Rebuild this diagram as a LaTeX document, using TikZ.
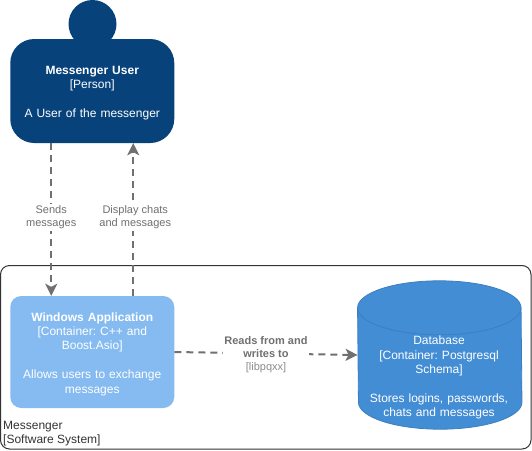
\documentclass[tikz,border=0pt]{standalone}
\usepackage{fontspec}
\setmainfont{Liberation Sans}
\usepackage{tikz}
\usetikzlibrary{positioning}
\usetikzlibrary{arrows.meta}
\definecolor{PersonBlue}{HTML}{08427B}
\definecolor{AppBlue}{HTML}{85BBF0}
\definecolor{DbBlue}{HTML}{438DD5}
\definecolor{DbEdge}{HTML}{3C7FC0}
\definecolor{LinkGray}{HTML}{707070}
\tikzset{
  boxtext/.style={text=white,align=center,text width=156pt,inner sep=0pt,font=\fontsize{12}{14.4}\selectfont},
  linktext/.style={text=LinkGray,fill=white,align=center,inner sep=1.5pt,font=\fontsize{11}{13.2}\selectfont},
  link/.style={draw=LinkGray,line width=2pt,dash pattern=on 7pt off 5pt,-{Stealth[length=12pt,width=12pt,inset=3pt]}}
}
\frenchspacing
\begin{document}
\frenchspacing
\begin{tikzpicture}[x=1pt,y=-1pt]
\useasboundingbox (0,0) rectangle (532,450);
\fill[white] (0,0) rectangle (532,450);
\draw[color=black!80,line width=1pt,rounded corners=9pt] (0.5,265.5) rectangle (531,449);
\node[anchor=north west,inner sep=0pt,align=left,text=black!80,font=\fontsize{12}{14.4}\selectfont] (system) at (3,421)
{Messenger\\{[Software System]}};
% person
\node[circle,fill=PersonBlue,minimum size=48pt,inner sep=0pt] (head) at (92.5,24) {};
\node[fill=PersonBlue,rounded corners=24pt,minimum width=164pt,minimum height=104pt,inner sep=0pt] (user) at (92.25,91) {};
\node[boxtext] (usertext) at (92.25,93)
{\textbf{Messenger User}\\{[Person]}\\[14.4pt]A User of the messenger};
% containers
\node[fill=AppBlue,rounded corners=11pt,minimum width=164pt,minimum height=112pt,inner sep=0pt] (app) at (92.25,352) {};
\node[boxtext] (apptext) at (92.25,354)
{\textbf{Windows Application}\\{[Container: C++ and}\\Boost.Asio]\\[14.4pt]Allows users to exchange\\messages};
\node[minimum width=164pt,minimum height=148pt,inner sep=0pt] (db) at (439.75,355) {};
\path[draw=DbEdge,fill=DbBlue,line width=0.8pt] ([yshift=-27pt]db.north west) arc[start angle=180,end angle=0,x radius=81.75pt,y radius=27pt] -- ([yshift=27pt]db.south east) arc[start angle=0,end angle=-180,x radius=81.75pt,y radius=27pt] -- cycle;
\draw[DbEdge,line width=0.8pt] ([yshift=-27pt]db.north west) arc[start angle=180,end angle=360,x radius=81.75pt,y radius=27pt];
\node[boxtext] (dbtext) at (439,377.5)
{Database\\{[Container: Postgresql}\\Schema]\\[14.4pt]Stores logins, passwords,\\chats and messages};
% links
\draw[link] ([xshift=-41pt]user.south) -- node[linktext,yshift=2pt] {Sends\\messages} ([xshift=-41pt]app.north);
\draw[link] ([xshift=41pt]app.north) -- node[linktext,xshift=2pt,yshift=2pt] {Display chats\\and messages} ([xshift=41pt]user.south);
\draw[link] (app.east) -- node[linktext,yshift=-1pt] {\textbf{Reads from and}\\\textbf{writes to}\\{\color{LinkGray!80}[libpqxx]}} (db.west);
\end{tikzpicture}
\end{document}
